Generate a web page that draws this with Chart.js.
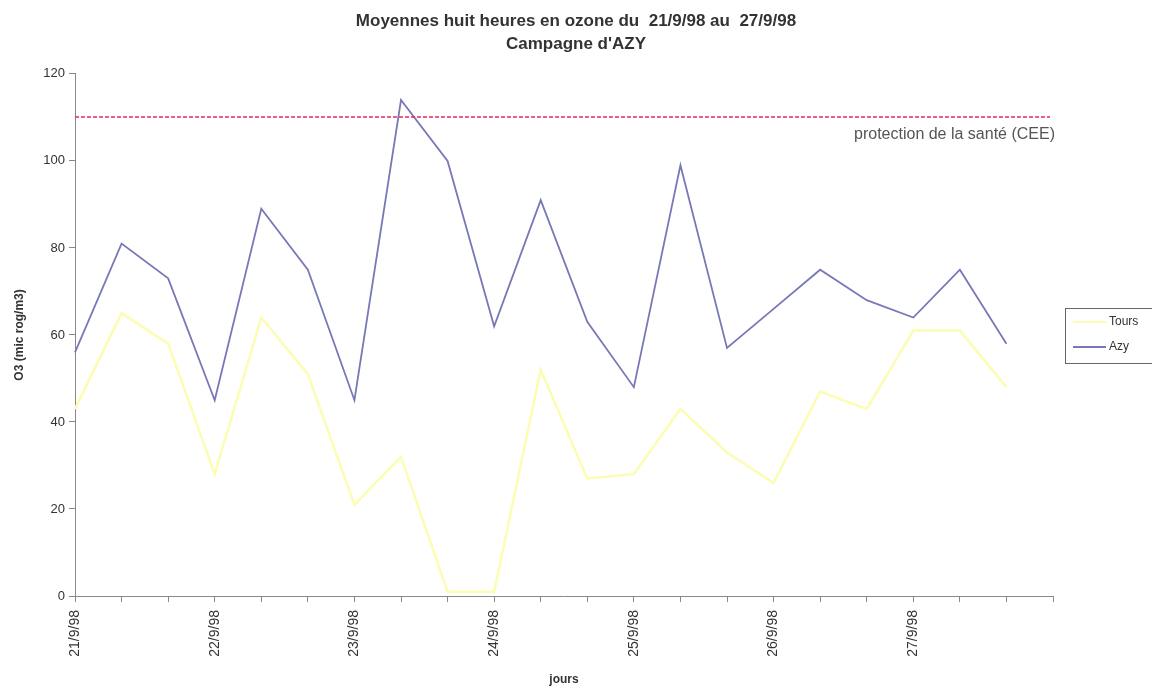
<!DOCTYPE html>
<html lang="fr">
<head>
<meta charset="utf-8">
<title>Moyennes huit heures en ozone - Campagne d'AZY</title>
<script src="https://cdn.jsdelivr.net/npm/chart.js@4.4.1/dist/chart.umd.min.js"></script>
<style>
  html, body { margin: 0; padding: 0; background: #fff; }
  #graph { display: block; }
</style>
</head>
<body>
<canvas id="graph" width="1152" height="689"></canvas>
<script>
// étiquettes de l'axe des x (une date toutes les 3 moyennes de 8 h)
const jours = [
  '21/9/98', '', '', '22/9/98', '', '', '23/9/98', '', '', '24/9/98', '',
  '', '25/9/98', '', '', '26/9/98', '', '', '27/9/98', '', '', ''
];

// O3 (microg/m3)
const tours = [43, 65, 58, 28, 64, 51, 21, 32, 1, 1, 52, 27, 28, 43, 33, 26, 47, 43, 61, 61, 48];
const azy = [56, 81, 73, 45, 89, 75, 45, 114, 100, 62, 91, 63, 48, 99, 57, 66, 75, 68, 64, 75, 58];

const yTicks = [0, 20, 40, 60, 80, 100, 120];
const SEUIL_SANTE = 110;
const POLICE = '"Liberation Sans", Arial, sans-serif';

// ligne du seuil de protection de la santé + son libellé
const seuilPlugin = {
  id: 'seuil',
  afterDatasetsDraw(chart) {
    const { ctx, chartArea, scales } = chart;
    const y = Math.round(scales.y.getPixelForValue(SEUIL_SANTE));
    ctx.save();
    ctx.strokeStyle = 'rgb(235, 40, 90)';
    ctx.lineWidth = 1.5;
    ctx.setLineDash([4, 2]);
    ctx.beginPath();
    ctx.moveTo(chartArea.left, y);
    ctx.lineTo(chartArea.right - 3, y);
    ctx.stroke();
    ctx.setLineDash([]);
    ctx.fillStyle = '#555';
    ctx.font = '16px ' + POLICE;
    ctx.textAlign = 'right';
    ctx.textBaseline = 'top';
    ctx.fillText('protection de la santé (CEE)', chartArea.right + 2, y + 10);
    ctx.restore();
  }
};

// légende encadrée à droite
const legendePlugin = {
  id: 'legende',
  afterDraw(chart) {
    const { ctx, chartArea } = chart;
    const x = chartArea.right + 12;
    const top = Math.round((chartArea.top + chartArea.bottom) / 2) - 27;
    ctx.save();
    ctx.strokeStyle = '#666';
    ctx.lineWidth = 1;
    ctx.strokeRect(x + 0.5, top + 0.5, 100, 55);
    ctx.font = '12px ' + POLICE;
    ctx.textBaseline = 'middle';
    ctx.fillStyle = '#333';
    chart.data.datasets.forEach((ds, i) => {
      const ly = top + 14 + i * 25;
      ctx.strokeStyle = ds.borderColor;
      ctx.lineWidth = 2;
      ctx.beginPath();
      ctx.moveTo(x + 8, ly);
      ctx.lineTo(x + 41, ly);
      ctx.stroke();
      ctx.fillText(ds.label, x + 44, ly);
    });
    ctx.restore();
  }
};

new Chart(document.getElementById('graph'), {
  type: 'line',
  data: {
    labels: jours,
    datasets: [
      {
        label: 'Tours',
        data: tours,
        borderColor: '#fcfcb2',
        borderWidth: 2.5,
        pointRadius: 0,
        tension: 0
      },
      {
        label: 'Azy',
        data: azy,
        borderColor: '#7878b8',
        borderWidth: 1.8,
        pointRadius: 0,
        tension: 0
      }
    ]
  },
  options: {
    responsive: false,
    animation: false,
    layout: { padding: 0 },
    plugins: {
      legend: { display: false },
      tooltip: { enabled: false },
      title: {
        display: true,
        text: ['Moyennes huit heures en ozone du  21/9/98 au  27/9/98', "Campagne d'AZY"],
        color: '#333',
        font: { family: POLICE, size: 17, weight: 'bold', lineHeight: 1.35 },
        padding: { top: 10, bottom: 18 }
      }
    },
    scales: {
      x: {
        offset: false,
        border: { color: '#888', width: 1 },
        grid: { display: true, drawOnChartArea: false, drawTicks: true, tickLength: 6, color: '#888' },
        ticks: {
          autoSkip: false,
          maxRotation: 90,
          minRotation: 90,
          padding: 8,
          color: '#333',
          font: { family: POLICE, size: 14 }
        },
        title: {
          display: true,
          text: 'jours',
          color: '#333',
          font: { family: POLICE, size: 12, weight: 'bold' },
          padding: { top: 4, bottom: 2 }
        },
        afterFit(s) { s.height = 93; }
      },
      y: {
        min: yTicks[0],
        max: yTicks[yTicks.length - 1],
        border: { color: '#888', width: 1 },
        grid: { display: true, drawOnChartArea: false, drawTicks: true, tickLength: 6, color: '#888' },
        afterBuildTicks(s) { s.ticks = yTicks.map(v => ({ value: v })); },
        ticks: {
          padding: 4,
          color: '#333',
          font: { family: POLICE, size: 13 }
        },
        title: {
          display: true,
          text: 'O3 (mic rog/m3)',
          color: '#333',
          font: { family: POLICE, size: 12, weight: 'bold' },
          padding: { top: 12, bottom: 4 }
        },
        afterFit(s) { s.width = 75; }
      },
      // réserve la place de la légende à droite
      droite: {
        position: 'right',
        grid: { display: false },
        border: { display: false },
        ticks: { display: false },
        afterFit(s) { s.width = 99; }
      }
    }
  },
  plugins: [seuilPlugin, legendePlugin]
});
</script>
</body>
</html>
